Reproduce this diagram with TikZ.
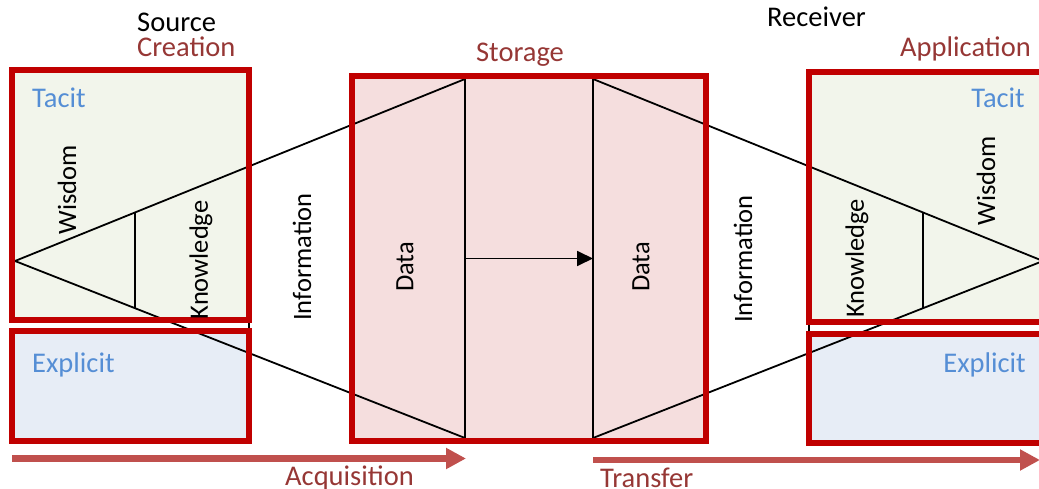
\documentclass[tikz,border=0pt]{standalone}
\usepackage{fontspec}
\setmainfont{Carlito}
\usetikzlibrary{arrows.meta,positioning,calc}
\definecolor{boxred}{RGB}{192,0,0}
\definecolor{darkred}{RGB}{150,55,53}
\definecolor{arrowred}{RGB}{192,80,77}
\definecolor{tacitfill}{RGB}{242,245,235}
\definecolor{explfill}{RGB}{231,237,246}
\definecolor{storefill}{RGB}{245,222,222}
\definecolor{skyblue}{RGB}{85,142,213}

\begin{document}
\begin{tikzpicture}[x=1pt,y=-1pt,
  every node/.style={font=\fontsize{28.5}{34}\selectfont,inner sep=0pt},
  zone/.style={inner sep=0pt,outer sep=0pt},
  frame/.style={draw=boxred,line width=6pt},
  edge/.style={black,line width=1.8pt},
  level/.style={rotate=90,font=\fontsize{26.5}{32}\selectfont},
  flow/.style={arrowred,line width=6.5pt,-{Triangle[length=20pt,width=20pt]}}]
\useasboundingbox (0,0) rectangle (1039,489);
\clip (0,0) rectangle (1039,489);
% filled areas
\node[zone,fill=tacitfill,minimum width=237pt,minimum height=250pt] (srcT) at (130.5,195) {};
\node[zone,fill=explfill,minimum width=237pt,minimum height=110pt] (srcE) at (130.5,386) {};
\node[zone,fill=storefill,minimum width=354pt,minimum height=365pt] (store) at (529,258.5) {};
\node[zone,fill=tacitfill,minimum width=237pt,minimum height=250pt] (rcvT) at (927.5,197) {};
\node[zone,fill=explfill,minimum width=237pt,minimum height=109pt] (rcvE) at (927.5,388.5) {};
% pyramid on both sides
\coordinate (apexL) at (15,261);
\coordinate (apexR) at (1043,261);
\coordinate (dTL) at (465,79);
\coordinate (dBL) at (465,438);
\coordinate (dTR) at (593,79);
\coordinate (dBR) at (593,438);
\draw[edge] (dTL) -- (apexL) -- (dBL) -- cycle;
\draw[edge] (dTR) -- (apexR) -- (dBR) -- cycle;
\foreach \t in {0.2667,0.52} {
  \draw[edge] ($(apexL)!\t!(dTL)$) -- ($(apexL)!\t!(dBL)$);
  \draw[edge] ($(apexR)!\t!(dTR)$) -- ($(apexR)!\t!(dBR)$);
}
\draw[edge,-{Triangle[length=16pt,width=15pt]}] ($(dTL)!0.5!(dBL)$) -- ($(dTR)!0.5!(dBR)$);
% red frames
\draw[frame] (srcT.south west) rectangle (srcT.north east);
\draw[frame] (srcE.south west) rectangle (srcE.north east);
\draw[frame] (store.south west) rectangle (store.north east);
\draw[frame] (rcvT.south west) rectangle (rcvT.north east);
\draw[frame] (rcvE.south west) rectangle (rcvE.north east);
% titles
\node[anchor=base west] (srcLbl) at (137,32) {Source};
\node[anchor=base west,text=darkred] (creLbl) at (137,57) {Creation};
\node[anchor=base,text=darkred] (stoLbl) at (520,62) {Storage};
\node[anchor=base west] (rcvLbl) at (767,27) {Receiver};
\node[anchor=base west,text=darkred] (appLbl) at (900,57) {Application};
\node[anchor=base west,text=skyblue] (tacL) at (32,108) {Tacit};
\node[anchor=base west,text=skyblue] (expL) at (32,372) {Explicit};
\node[anchor=base east,text=skyblue] (tacR) at (1025,108) {Tacit};
\node[anchor=base east,text=skyblue] (expR) at (1026,372) {Explicit};
% levels
\node[level] (wisL) at (67,190) {Wisdom};
\node[level] (knoL) at (201,260) {Knowledge};
\node[level] (infL) at (302,257) {Information};
\node[level] (datL) at (405,267) {Data};
\node[level] (datR) at (641,267) {Data};
\node[level] (infR) at (743,259) {Information};
\node[level] (knoR) at (857,258.5) {Knowledge};
\node[level] (wisR) at (986,181) {Wisdom};
% process arrows
\coordinate (acqS) at (12,458.5);
\coordinate (acqE) at (466,458.5);
\coordinate (trfS) at (593,460);
\coordinate (trfE) at (1040,460);
\draw[flow] (acqS) -- (acqE);
\draw[flow] (trfS) -- (trfE);
\node[anchor=base west,text=darkred] (acqLbl) at (285,485) {Acquisition};
\node[anchor=base west,text=darkred] (trfLbl) at (600,487) {Transfer};
\end{tikzpicture}
\end{document}
